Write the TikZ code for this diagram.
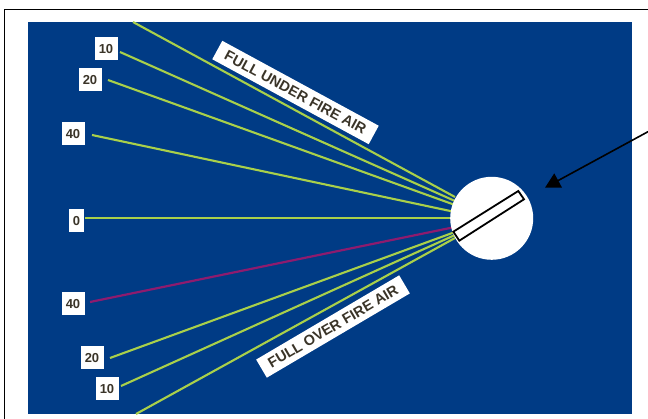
\documentclass[tikz,border=0pt]{standalone}
\usepackage{fontspec}
\setmainfont{Liberation Sans}
\definecolor{panel}{HTML}{003B85}
\definecolor{ray}{HTML}{A9D04A}
\definecolor{rayred}{HTML}{8E1B6E}
\definecolor{ink}{HTML}{3A3428}
\usetikzlibrary{arrows.meta}
\tikzset{
 num/.style={fill=white,text=ink,font=\bfseries\fontsize{13}{13}\selectfont,minimum height=23pt,minimum width=23pt,inner sep=0pt},
 band/.style={fill=white,text=ink,font=\bfseries\fontsize{14.5}{15}\selectfont,minimum height=21pt,inner sep=0pt},
 rayline/.style={draw=ray,line width=2.1pt},
 redline/.style={draw=rayred,line width=2.2pt},
 frameline/.style={draw=black,line width=1.6pt},
}
\begin{document}
\begin{tikzpicture}[x=1pt,y=-1pt]
\useasboundingbox (0,0) rectangle (648,419);
\fill[white] (0,0) rectangle (648,419);
\draw[frameline] (4.5,419) -- (4.5,9.5) -- (648,9.5);
\fill[panel] (28,22) rectangle (632,414);
% end points
\coordinate (t0) at (133,22);
\coordinate (t1) at (120,52);
\coordinate (t2) at (108,80);
\coordinate (t3) at (92,135);
\coordinate (t4) at (85,218);
\coordinate (b3) at (90,302);
\coordinate (b2) at (110,358);
\coordinate (b1) at (121,386);
\coordinate (b0) at (136,414);
\coordinate (h0) at (455,197);
\coordinate (h1) at (455,201);
\coordinate (h2) at (455,205);
\coordinate (h3) at (455,212);
\coordinate (h4) at (455,218);
\coordinate (h5) at (455,227);
\coordinate (h6) at (455,232);
\coordinate (h7) at (455,235);
\coordinate (h8) at (455,238);
\draw[rayline] (t0) -- (h0);
\draw[rayline] (t1) -- (h1);
\draw[rayline] (t2) -- (h2);
\draw[rayline] (t3) -- (h3);
\draw[rayline] (t4) -- (h4);
\draw[redline] (b3) -- (h5);
\draw[rayline] (b2) -- (h6);
\draw[rayline] (b1) -- (h7);
\draw[rayline] (b0) -- (h8);
% circle and slot
\node[circle,fill=white,minimum size=83pt,inner sep=0pt] (hub) at (491.7,218.3) {};
\coordinate (s1) at (453.3,231.7);
\coordinate (s2) at (518.3,191);
\coordinate (s3) at (524,199.3);
\coordinate (s4) at (459.3,240.7);
\draw[black,line width=1.8pt,fill=white] (s1) -- (s2) -- (s3) -- (s4) -- cycle;
% arrow
\coordinate (af) at (648,131.7);
\coordinate (at) at (545,187.7);
\draw[black,line width=1.6pt,-{Triangle[length=15pt,width=16pt]}] (af) -- (at);
% labels
\node[num] (n10) at (106,49) {10};
\node[num] (n20) at (90,80) {20};
\node[num] (n40) at (73,134) {40};
\node[num,minimum width=15pt] (n0) at (76.5,221) {0};
\node[num] (m40) at (73,304) {40};
\node[num] (m20) at (92,358) {20};
\node[num] (m10) at (107,389) {10};
\node[band,rotate=-28.5,minimum width=178pt] (under) at (295.5,92.5) {FULL UNDER FIRE AIR};
\node[band,rotate=30.5,minimum width=166pt] (over) at (333,326.5) {FULL OVER FIRE AIR};
\end{tikzpicture}
\end{document}
